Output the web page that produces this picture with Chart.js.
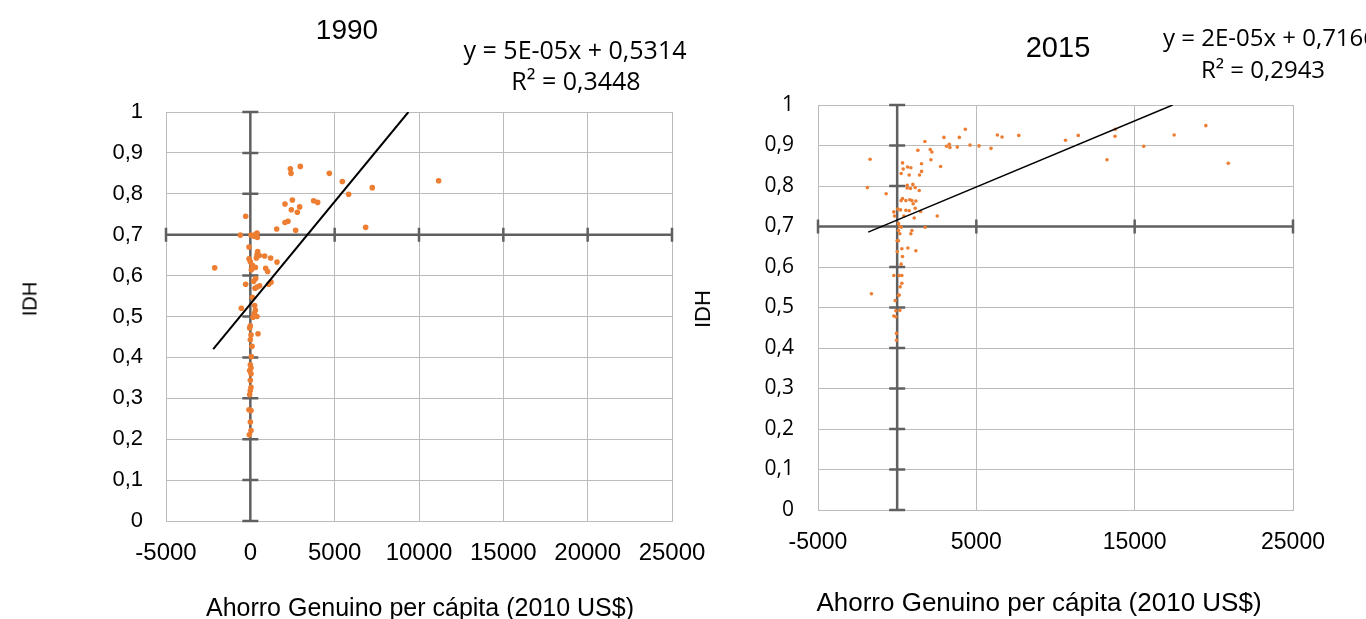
<!DOCTYPE html>
<html>
<head>
<meta charset="utf-8">
<script src="https://cdn.jsdelivr.net/npm/chart.js@4/dist/chart.umd.min.js"></script>
<style>
    html, body { margin: 0; padding: 0; background: #fff; }
    #page { position: relative; width: 1366px; height: 619px; overflow: hidden; }
    canvas { position: absolute; top: 0; }
    .txt { position: absolute; white-space: nowrap; color: #000; }
    .c { transform: translate(-50%, -50%); }
    .rot { transform: translate(-50%, -50%) rotate(-90deg); }
</style>
</head>
<body>
<div id="page">
    <canvas id="chart1990" width="730" height="619" style="left:0;width:730px;height:619px"></canvas>
    <canvas id="chart2015" width="666" height="619" style="left:700px;width:666px;height:619px"></canvas>

    <div class="txt c" style="left:347px;top:30px;font:28px 'Liberation Sans'">1990</div>
    <div class="txt c" style="left:575px;top:49px;font:25px 'Open Sans'">y = 5E-05x + 0,5314</div>
    <div class="txt c" style="left:576px;top:80px;font:25px 'Open Sans'">R² = 0,3448</div>
    <div class="txt rot" style="left:30px;top:299px;font:20px 'Liberation Sans'">IDH</div>
    <div class="txt c" style="left:420px;top:607px;font:25px 'Liberation Sans'">Ahorro Genuino per cápita (2010 US$)</div>

    <div class="txt c" style="left:1058px;top:47px;font:29px 'Liberation Sans'">2015</div>
    <div class="txt" style="left:1163px;top:20px;font:24px 'Open Sans'">y = 2E-05x + 0,7166</div>
    <div class="txt c" style="left:1263px;top:68px;font:24px 'Open Sans'">R² = 0,2943</div>
    <div class="txt rot" style="left:703px;top:309px;font:22px 'Liberation Sans'">IDH</div>
    <div class="txt c" style="left:1039px;top:602px;font:26px 'Liberation Sans'">Ahorro Genuino per cápita (2010 US$)</div>
</div>
<script>
    'use strict';

    // 1990 - Ahorro Genuino per cápita vs IDH
    const ahorro1990 = [2371, 2411, 2964, 4683, 5454, 7232, 5829, 11164, 2490, 2055, 3754, 3992, 2924, 2430, 2786,
        -277, 2233, 2055, 1561, 2687, 6837, -593, 40, 277, 395, 415, 217, -79, 435, 395, 534, 850, 1205, 356, -79,
        1581, 0, 119, 296, 59, -2114, 909, 1027, 316, 198, 1225, 1087, 553, 277, -277, 395, 119, 257, -534, 237,
        158, 395, 300, 0, -40, 40, 455, 0, 99, 60, 0, 40, -40, 40, 0, 40, 0, -40, -80, 40, 0, 40, -60];
    const idh1990 = [0.861, 0.850, 0.867, 0.850, 0.830, 0.815, 0.799, 0.832, 0.785, 0.775, 0.783, 0.779, 0.768, 0.761, 0.755,
        0.745, 0.733, 0.730, 0.714, 0.711, 0.718, 0.699, 0.699, 0.700, 0.704, 0.693, 0.696, 0.670, 0.659, 0.651, 0.649, 0.648, 0.643, 0.643, 0.641,
        0.633, 0.634, 0.625, 0.620, 0.614, 0.619, 0.618, 0.610, 0.593, 0.586, 0.584, 0.579, 0.575, 0.569, 0.579, 0.572, 0.547, 0.527, 0.520, 0.507,
        0.498, 0.500, 0.515, 0.477, 0.472, 0.455, 0.458, 0.443, 0.427, 0.402, 0.382, 0.374, 0.368, 0.360, 0.344, 0.327, 0.319, 0.309, 0.272, 0.270, 0.242, 0.221, 0.211];
    const trend1990X = [-2200, 9372];
    const trend1990Y = [0.42, 1.0];

    // 2015
    const ahorro2015 = [4304, 2954, 3925, 6330, 6625, 7680, 10634, 1751, 3123, 3292, 3334, 3798, 4600, 5170, 5929,
        1308, 2089, 2194, -1709, 2131, 338, 1540, 2743, 654, 865, 380, 1540, 253, 760, 1414, -1878, 633, 992, 1139,
        633, 844, 1393, -696, 338, 549, 802, 928, 1182, 1013, 253, 1139, 42, 211, 549, 760, -211, 1477, -169, 422,
        1076, 2532, 84, 169, 253, 1772, 84, 169, 928, 865, 0, 84, 675, 1182, 0, 295, 338, 253, -211, 127, 295, 295,
        190, -1625, 84, 127, -127, 169, -84, -211, -84, -42, -42,
        11437, 13778, 13759, 13252, 15570, 17494, 19494, 20911];
    const idh2015 = [0.940, 0.920, 0.920, 0.926, 0.921, 0.925, 0.913, 0.910, 0.898, 0.903, 0.895, 0.896, 0.901, 0.899, 0.893,
        0.888, 0.890, 0.884, 0.866, 0.865, 0.857, 0.855, 0.848, 0.847, 0.845, 0.842, 0.836, 0.831, 0.827, 0.827, 0.796, 0.802, 0.804, 0.796,
        0.795, 0.794, 0.789, 0.781, 0.769, 0.764, 0.766, 0.764, 0.763, 0.756, 0.764, 0.745, 0.743, 0.741, 0.740, 0.739, 0.736, 0.737, 0.726, 0.726,
        0.721, 0.726, 0.707, 0.700, 0.698, 0.698, 0.690, 0.682, 0.690, 0.682, 0.665, 0.665, 0.647, 0.640, 0.638, 0.645, 0.626, 0.607, 0.579, 0.579, 0.579, 0.560,
        0.551, 0.534, 0.530, 0.531, 0.517, 0.493, 0.492, 0.479, 0.477, 0.436, 0.419,
        0.925, 0.940, 0.923, 0.865, 0.898, 0.926, 0.949, 0.856];
    const trend2015X = [-1830, 17400];
    const trend2015Y = [0.686, 1.0];

    const xTicks1990 = [-5000, 0, 5000, 10000, 15000, 20000, 25000];
    const xTicks2015 = [-5000, 5000, 15000, 25000];
    const yTicks = [0, 0.1, 0.2, 0.3, 0.4, 0.5, 0.6, 0.7, 0.8, 0.9, 1];

    const ORANGE = '#ED7D31';
    const GRID = '#bcbcbc';
    const AXIS = '#606060';

    function toPoints(xs, ys) {
        return xs.map((x, i) => ({ x: x, y: ys[i] }));
    }

    function fmtComma(v) {
        return String(Math.round(v * 10) / 10).replace('.', ',');
    }

    // Excel-style axes crossing at x=0 and y=0.7, with cross tick marks
    const crossAxes = {
        id: 'crossAxes',
        beforeDatasetsDraw(chart, args, opts) {
            const ctx = chart.ctx;
            const x = chart.scales.x;
            const y = chart.scales.y;
            const x0 = x.getPixelForValue(opts.xAt);
            const y0 = y.getPixelForValue(opts.yAt);
            ctx.save();
            ctx.strokeStyle = AXIS;
            ctx.lineWidth = 2.5;
            ctx.beginPath();
            ctx.moveTo(x0, y.top);
            ctx.lineTo(x0, y.bottom);
            ctx.moveTo(x.left, y0);
            ctx.lineTo(x.right, y0);
            y.ticks.forEach(t => {
                const py = y.getPixelForValue(t.value);
                ctx.moveTo(x0 - 8, py);
                ctx.lineTo(x0 + 8, py);
            });
            x.ticks.forEach(t => {
                const px = x.getPixelForValue(t.value);
                ctx.moveTo(px, y0 - 7);
                ctx.lineTo(px, y0 + 7);
            });
            ctx.stroke();
            ctx.restore();
        }
    };

    function makeChart(id, cfg) {
        return new Chart(document.getElementById(id), {
            type: 'scatter',
            data: {
                datasets: [
                    {
                        data: toPoints(cfg.trendX, cfg.trendY),
                        showLine: true,
                        borderColor: '#000',
                        borderWidth: cfg.trendWidth,
                        pointRadius: 0,
                        order: 0
                    },
                    {
                        data: toPoints(cfg.xs, cfg.ys),
                        backgroundColor: ORANGE,
                        borderColor: ORANGE,
                        borderWidth: 0,
                        pointRadius: cfg.radius,
                        order: 1
                    }
                ]
            },
            options: {
                responsive: false,
                animation: false,
                layout: { padding: { left: 0, right: cfg.padRight, top: cfg.padTop, bottom: 0 } },
                plugins: {
                    legend: { display: false },
                    tooltip: { enabled: false },
                    crossAxes: { xAt: 0, yAt: 0.7 }
                },
                scales: {
                    x: {
                        type: 'linear',
                        min: -5000,
                        max: 25000,
                        afterBuildTicks: function(scale) {
                            scale.ticks = cfg.xTicks.map(v => ({ value: v }));
                        },
                        afterFit: function(scale) {
                            scale.height = cfg.xHeight;
                            scale.paddingLeft = 0;
                            scale.paddingRight = 0;
                        },
                        grid: { color: GRID, drawTicks: false },
                        border: { color: GRID },
                        ticks: {
                            padding: cfg.xPad,
                            color: '#000',
                            maxRotation: 0,
                            autoSkip: false,
                            font: { family: 'Liberation Sans', size: cfg.xSize },
                            callback: function(value) { return String(value); }
                        }
                    },
                    y: {
                        type: 'linear',
                        min: 0,
                        max: 1,
                        afterBuildTicks: function(scale) {
                            scale.ticks = yTicks.map(v => ({ value: v }));
                        },
                        afterFit: function(scale) {
                            scale.width = cfg.yWidth;
                            scale.paddingTop = 0;
                            scale.paddingBottom = 0;
                        },
                        grid: { color: GRID, drawTicks: false },
                        border: { color: GRID },
                        ticks: {
                            padding: cfg.yPad,
                            color: '#000',
                            autoSkip: false,
                            font: { family: cfg.yFont, size: cfg.ySize },
                            callback: function(value) { return fmtComma(value); }
                        }
                    }
                }
            },
            plugins: [crossAxes]
        });
    }

    makeChart('chart1990', {
        xs: ahorro1990, ys: idh1990, trendX: trend1990X, trendY: trend1990Y,
        xTicks: xTicks1990, radius: 2.8, trendWidth: 2,
        padRight: 58, padTop: 112, xHeight: 98, yWidth: 166,
        xPad: 18, yPad: 23, xSize: 24, yFont: 'Liberation Sans', ySize: 22
    });

    makeChart('chart2015', {
        xs: ahorro2015, ys: idh2015, trendX: trend2015X, trendY: trend2015Y,
        xTicks: xTicks2015, radius: 1.8, trendWidth: 1.5,
        padRight: 73, padTop: 105, xHeight: 109, yWidth: 118,
        xPad: 19, yPad: 24, xSize: 23, yFont: 'Open Sans', ySize: 21
    });
</script>
</body>
</html>
